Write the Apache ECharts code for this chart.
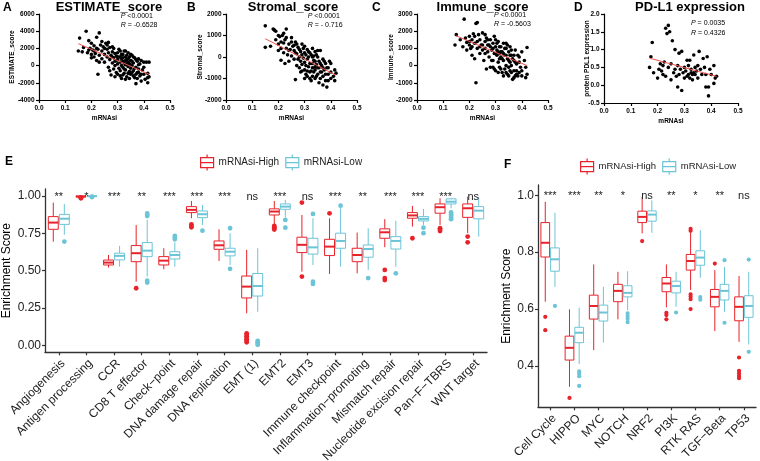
<!DOCTYPE html>
<html><head><meta charset="utf-8">
<script src="https://cdn.jsdelivr.net/npm/echarts@6/dist/echarts.min.js"></script>
<style>html,body{margin:0;padding:0;background:#fff}#c{width:760px;height:461px}</style>
</head><body><div id="c"></div>
<script>
// ---------------- data ----------------
const scatterA = [[0.15,1700],[0.155,3200],[0.165,1600],[0.17,2100],[0.18,4000],[0.185,1500],[0.19,2900],[0.195,2000],[0.2,1300],[0.2,2600],[0.205,1800],[0.21,1000],[0.21,2300],[0.215,1400],[0.22,3300],[0.22,600],[0.225,1900],[0.225,-1000],[0.23,3800],[0.23,1200],[0.235,2400],[0.24,800],[0.24,1700],[0.245,2200],[0.25,1300],[0.25,400],[0.255,2600],[0.26,1000],[0.26,1900],[0.265,-200],[0.265,1500],[0.27,700],[0.27,2100],[0.275,1200],[0.275,-1100],[0.28,300],[0.28,1600],[0.285,900],[0.285,-400],[0.29,1400],[0.29,500],[0.29,0],[0.295,1100],[0.295,-800],[0.3,700],[0.3,1500],[0.3,200],[0.305,-300],[0.305,1000],[0.31,400],[0.31,1700],[0.31,-600],[0.315,800],[0.315,0],[0.32,1300],[0.32,-200],[0.32,500],[0.325,-900],[0.325,300],[0.33,1000],[0.33,-500],[0.33,100],[0.335,700],[0.335,-1300],[0.34,-100],[0.34,400],[0.34,1500],[0.345,-700],[0.345,200],[0.35,600],[0.35,-1000],[0.35,-300],[0.355,1200],[0.355,0],[0.36,-600],[0.36,300],[0.365,-1400],[0.365,900],[0.37,-200],[0.37,-2100],[0.375,500],[0.375,-800],[0.38,-400],[0.38,100],[0.385,-1200],[0.39,600],[0.39,-1800],[0.395,-500],[0.4,400],[0.4,-1000],[0.405,-1600],[0.41,400],[0.415,-900],[0.415,-1400],[0.415,-2000],[0.42,400],[0.42,-1300],
[0.27,-600],[0.28,1000],[0.285,2000],[0.29,-1300],[0.295,600],[0.3,-1000],[0.3,1000],[0.305,1900],[0.31,-1200],[0.31,1000],[0.315,-1500],[0.315,1300],[0.32,900],[0.32,-1100],[0.325,1700],[0.325,-400],[0.33,600],[0.33,-1600],[0.335,1200],[0.335,200],[0.34,-900],[0.34,800],[0.345,-1500],[0.345,1000],[0.35,100],[0.35,1300],[0.355,-800],[0.355,500],[0.36,-1200],[0.36,1000],[0.365,-300],[0.37,700],[0.37,-1000],[0.375,-1500],[0.38,800],[0.38,-800],[0.385,200],[0.39,-1000],[0.4,-200],[0.24,2800],[0.25,2000],[0.26,2400],[0.22,2000],[0.23,400],[0.21,1700],[0.2,900],[0.19,1800],[0.28,2200],[0.265,2700],[0.33,1700]];
const scatterB = [[0.15,450],[0.15,1450],[0.17,500],[0.18,1300],[0.185,1250],[0.19,800],[0.19,1200],[0.2,600],[0.2,300],[0.205,950],[0.21,400],[0.21,-150],[0.215,1000],[0.22,650],[0.22,200],[0.225,-300],[0.225,800],[0.23,1300],[0.23,400],[0.235,100],[0.24,600],[0.24,-200],[0.245,350],[0.25,900],[0.25,50],[0.255,500],[0.26,-100],[0.26,300],[0.265,-1050],[0.265,700],[0.27,150],[0.27,-400],[0.275,450],[0.28,0],[0.28,-500],[0.285,250],[0.285,-200],[0.29,600],[0.29,-350],[0.295,-50],[0.3,200],[0.3,-600],[0.3,-250],[0.305,100],[0.305,-800],[0.31,350],[0.31,-100],[0.315,-450],[0.315,0],[0.32,200],[0.32,-700],[0.325,-300],[0.325,100],[0.33,400],[0.33,-500],[0.33,-900],[0.335,-150],[0.335,50],[0.34,-600],[0.34,250],[0.345,-350],[0.345,-900],[0.35,0],[0.35,-500],[0.355,-200],[0.355,-1200],[0.36,-700],[0.36,300],[0.365,-400],[0.37,-900],[0.37,-100],[0.375,-600],[0.38,-300],[0.38,-1100],[0.385,-1400],[0.39,-500],[0.39,-800],[0.395,-200],[0.4,-700],[0.4,-300],[0.41,-900],[0.415,-1100],[0.415,-600],[0.42,-750],
[0.27,600],[0.28,350],[0.285,-700],[0.29,100],[0.295,400],[0.3,-1000],[0.305,-400],[0.31,-650],[0.315,250],[0.32,-300],[0.32,-1000],[0.325,-650],[0.33,0],[0.33,-300],[0.335,-700],[0.34,-200],[0.34,-1000],[0.345,100],[0.35,-800],[0.35,300],[0.355,-500],[0.36,-300],[0.36,-1000],[0.365,-700],[0.37,-500],[0.375,-200],[0.38,-800],[0.385,-500],[0.39,-1100],[0.4,-1000],[0.25,700],[0.24,300],[0.23,900],[0.22,1100],[0.26,550],[0.275,-100],[0.29,-650],[0.31,-900],[0.34,-450],[0.37,-1300],[0.21,700],[0.2,1000],[0.265,200],[0.3,500],[0.325,-1100]];
const scatterC = [[0.145,1200],[0.15,1800],[0.165,1500],[0.175,1100],[0.18,2700],[0.185,1600],[0.19,1350],[0.19,900],[0.2,1700],[0.2,1200],[0.205,1000],[0.21,1500],[0.21,600],[0.215,1850],[0.22,1300],[0.22,400],[0.225,2450],[0.225,-1000],[0.23,2500],[0.23,1000],[0.235,1800],[0.24,1500],[0.24,700],[0.245,1200],[0.25,1900],[0.25,900],[0.255,300],[0.26,1400],[0.26,1000],[0.265,-200],[0.265,1600],[0.27,800],[0.27,1200],[0.275,500],[0.28,1500],[0.28,-100],[0.285,900],[0.29,1300],[0.29,300],[0.295,700],[0.295,1700],[0.3,1100],[0.3,-300],[0.305,600],[0.305,900],[0.31,1400],[0.31,200],[0.315,700],[0.315,-100],[0.32,1100],[0.32,500],[0.325,800],[0.325,-400],[0.33,1300],[0.33,300],[0.335,600],[0.335,-200],[0.34,1000],[0.34,0],[0.345,400],[0.345,-500],[0.35,800],[0.35,-100],[0.355,1100],[0.355,200],[0.36,-400],[0.36,600],[0.365,-800],[0.37,300],[0.37,-300],[0.375,900],[0.375,-600],[0.38,100],[0.38,-500],[0.385,600],[0.39,-400],[0.39,200],[0.395,-100],[0.4,800],[0.4,-300],[0.41,300],[0.415,-100],[0.415,-700],[0.42,1050],[0.42,-500],
[0.27,1500],[0.28,1100],[0.285,300],[0.29,1000],[0.295,-200],[0.3,700],[0.305,1300],[0.31,-400],[0.31,800],[0.315,1100],[0.32,-200],[0.32,800],[0.325,400],[0.33,700],[0.33,-600],[0.335,1000],[0.34,600],[0.34,-400],[0.345,1200],[0.35,300],[0.35,-600],[0.355,600],[0.36,900],[0.36,0],[0.365,400],[0.37,-700],[0.37,600],[0.375,200],[0.38,-300],[0.385,-600],[0.39,500],[0.4,-600],[0.25,1200],[0.24,1100],[0.23,1400],[0.22,1700],[0.26,1800],[0.26,700],[0.275,1200],[0.29,-100],[0.3,1500],[0.315,400],[0.34,1300],[0.355,-300],[0.21,1100],[0.2,1400]];
const scatterD = [[0.17,0.5],[0.175,0.8],[0.18,1.2],[0.185,0.35],[0.2,0.2],[0.205,0.45],[0.21,0.6],[0.215,0.4],[0.22,0.55],[0.22,0.3],[0.225,0.65],[0.23,1.6],[0.23,0.25],[0.235,1.45],[0.24,1.68],[0.24,0.5],[0.245,1.5],[0.25,0.15],[0.25,0.6],[0.255,1.25],[0.26,0.35],[0.265,1.0],[0.265,0.45],[0.27,0.25],[0.275,-0.05],[0.275,0.55],[0.28,0.3],[0.28,0.9],[0.285,0.45],[0.29,-0.15],[0.29,0.95],[0.295,0.35],[0.3,0.2],[0.3,0.5],[0.305,0.4],[0.31,0.7],[0.31,0.25],[0.315,0.55],[0.315,0.3],[0.32,0.2],[0.32,0.7],[0.325,0.35],[0.325,0.45],[0.33,0.3],[0.33,0.15],[0.335,0.35],[0.335,0.85],[0.34,0.5],[0.34,0.3],[0.345,0.4],[0.35,0.55],[0.35,0.2],[0.355,0.95],[0.36,0.45],[0.365,0.3],[0.37,0.75],[0.375,0.5],[0.38,0.3],[0.38,-0.05],[0.385,0.8],[0.39,-0.3],[0.39,-0.05],[0.395,0.45],[0.4,0.3],[0.41,0.55],[0.41,0.05],[0.415,0.2],[0.42,0.25]];
const fitA = [[0.15,2550],[0.42,-1000]];
const fitB = [[0.15,850],[0.42,-850]];
const fitC = [[0.15,1730],[0.42,0]];
const fitD = [[0.17,0.76],[0.42,0.25]];
const titles = ['ESTIMATE_score','Stromal_score','Immune_score','PD-L1 expression'];
const yNames = ['ESTIMATE_score','Stromal_score','Immune_score','protein PDL1 expression'];
const yRanges = [[-4000,6000,2000],[-2000,2000,1000],[-2000,3000,1000],[-0.5,2.0,0.5]];
const statsP = ['<0.0001','<0.0001','<0.0001','= 0.0035'];
const statsR = ['= -0.6528','= - 0.716','= -0.5603','= 0.4326'];

const catsE = ['Angiogenesis','Antigen processing','CCR','CD8 T effector','Check\u2212point','DNA damage repair','DNA replication','EMT (1)','EMT2','EMT3','Immune checkpoint','Inflammation\u2212promoting','Mismatch repair','Nucleotide excision repair','Pan\u2212F\u2212TBRS','WNT target'];
const sigE = ['**','*','***','**','***','***','***','ns','***','ns','***','**','***','***','***','ns'];
// [min, q1, median, q3, max]
const highE = [[0.694,0.777,0.822,0.862,0.956],[0.990,0.994,0.997,0.999,1.0],[0.520,0.538,0.554,0.571,0.605],[0.426,0.560,0.617,0.668,0.806],[0.509,0.538,0.567,0.594,0.650],[0.851,0.889,0.907,0.929,0.967],[0.565,0.643,0.670,0.699,0.777],[0.214,0.317,0.393,0.464,0.639],[0.813,0.873,0.896,0.914,0.967],[0.493,0.621,0.673,0.724,0.873],[0.478,0.601,0.661,0.710,0.851],[0.482,0.560,0.605,0.650,0.755],[0.657,0.717,0.757,0.780,0.845],[0.795,0.851,0.870,0.889,0.934],[0.806,0.885,0.925,0.947,0.985],[0.751,0.857,0.918,0.947,0.996]];
const lowE = [[0.740,0.810,0.848,0.877,0.947],[0.995,0.998,0.999,1.0,1.0],[0.527,0.572,0.599,0.617,0.666],[0.460,0.594,0.634,0.688,0.840],[0.527,0.578,0.605,0.627,0.690],[0.806,0.855,0.878,0.900,0.940],[0.538,0.599,0.627,0.650,0.751],[0.225,0.330,0.397,0.481,0.650],[0.857,0.911,0.929,0.947,0.974],[0.538,0.611,0.656,0.717,0.851],[0.527,0.650,0.699,0.751,0.918],[0.505,0.590,0.645,0.672,0.784],[0.527,0.645,0.699,0.728,0.835],[0.806,0.833,0.847,0.862,0.914],[0.918,0.947,0.962,0.981,0.989],[0.728,0.847,0.902,0.929,0.992]];
const outHighE = [[1,0.985],[1,0.988],[1,0.99],[3,0.382],[5,0.81],[5,0.80],[5,0.79],[7,0.08],[7,0.07],[7,0.06],[7,0.05],[7,0.04],[7,0.03],[7,0.02],[8,0.80],[8,0.79],[8,0.785],[8,0.775],[9,0.956],[9,0.460],[10,0.884],[12,0.505],[12,0.45],[12,0.437],[13,0.717],[14,0.784],[14,0.775],[14,0.765],[15,0.728],[15,0.690]];
const outLowE = [[0,0.695],[1,0.995],[1,0.993],[3,0.884],[3,0.875],[3,0.866],[3,0.433],[3,0.42],[4,0.733],[4,0.72],[4,0.71],[5,0.768],[6,0.784],[6,0.512],[7,0.03],[7,0.02],[7,0.01],[7,0.003],[8,0.84],[8,0.788],[9,0.88],[9,0.426],[9,0.411],[10,0.935],[11,0.450],[12,0.482],[13,0.788],[13,0.751],[14,0.89],[14,0.877],[14,0.866],[14,0.855],[14,0.845]];

const catsF = ['Cell Cycle','HIPPO','MYC','NOTCH','NRF2','PI3K','RTK RAS','TGF\u2212Beta','TP53'];
const sigF = ['***','***','**','*','ns','**','*','**','ns'];
const highF = [[0.626,0.783,0.833,0.904,0.977],[0.327,0.421,0.464,0.505,0.599],[0.456,0.565,0.611,0.649,0.757],[0.564,0.626,0.664,0.687,0.731],[0.866,0.904,0.924,0.944,0.994],[0.606,0.661,0.690,0.711,0.757],[0.667,0.737,0.769,0.792,0.868],[0.523,0.608,0.643,0.669,0.737],[0.485,0.559,0.608,0.643,0.716]];
const lowF = [[0.678,0.733,0.775,0.815,0.938],[0.407,0.482,0.517,0.536,0.605],[0.482,0.558,0.588,0.614,0.678],[0.596,0.643,0.657,0.682,0.733],[0.868,0.909,0.932,0.945,0.982],[0.608,0.657,0.681,0.698,0.731],[0.710,0.754,0.781,0.805,0.877],[0.591,0.632,0.664,0.687,0.748],[0.476,0.571,0.611,0.647,0.731]];
const outHighF = [[0,0.573],[0,0.526],[1,0.288],[4,0.839],[5,0.587],[5,0.579],[5,0.564],[6,0.882],[6,0.875],[6,0.652],[6,0.644],[6,0.635],[6,0.600],[7,0.760],[8,0.430],[8,0.383],[8,0.374],[8,0.365],[8,0.357]];
const outLowF = [[0,0.611],[1,0.381],[1,0.373],[1,0.364],[1,0.330],[3,0.585],[3,0.575],[3,0.566],[3,0.554],[5,0.588],[6,0.642],[6,0.633],[7,0.772],[7,0.552],[8,0.774],[8,0.450]];

// ---------------- styling ----------------
const FONT = "'Liberation Sans', Arial, sans-serif";
const RED = '#E8222A', CYAN = '#6CC4D7';
const chart = echarts.init(document.getElementById('c'), null, {renderer:'canvas'});

const scGrids = [
  {left:39, top:14, width:131, height:86},
  {left:226, top:14, width:131, height:86},
  {left:417, top:14, width:131, height:86},
  {left:604, top:14, width:134, height:89}
];
const yNameGap = [23, 22, 22, 13];
const grids = scGrids.map(g => Object.assign({outerBoundsMode:'none', containLabel:false}, g));
grids.push({left:45, top:189, width:442, height:163.3, outerBoundsMode:'none', containLabel:false});
grids.push({left:538, top:185, width:218, height:222.3, outerBoundsMode:'none', containLabel:false});

const axLine = {show:true, onZero:false, lineStyle:{color:'#000', width:1.2}};
const scTick = {show:true, length:3, inside:false, lineStyle:{color:'#000', width:1.2}};
const scLabel = {fontSize:6.5, fontWeight:'bold', color:'#000', fontFamily:FONT};

const xAxes = [], yAxes = [], series = [];
const scatters = [scatterA, scatterB, scatterC, scatterD];
const fits = [fitA, fitB, fitC, fitD];
for (let k = 0; k < 4; k++) {
  xAxes.push({gridIndex:k, type:'value', min:0, max:0.5, interval:0.1,
    axisLine:axLine, axisTick:scTick, splitLine:{show:false},
    axisLabel:Object.assign({margin:4.5, formatter:v=>v.toFixed(1)}, scLabel),
    name:'mRNAsi', nameLocation:'middle', nameGap:14.5, nameMoveOverlap:false,
    nameTextStyle:{fontSize:6.5, fontWeight:'bold', color:'#000', fontFamily:FONT}});
  const r = yRanges[k];
  yAxes.push({gridIndex:k, type:'value', min:r[0], max:r[1], interval:r[2],
    axisLine:axLine, axisTick:scTick, splitLine:{show:false},
    axisLabel:Object.assign({margin:4.5, formatter:v=> k===3 ? v.toFixed(1) : String(v)}, scLabel),
    name:yNames[k], nameLocation:'middle', nameRotate:90, nameGap:yNameGap[k], nameMoveOverlap:false,
    nameTextStyle:{fontSize:6.5, fontWeight:'bold', color:'#000', fontFamily:FONT}});
  series.push({type:'scatter', xAxisIndex:k, yAxisIndex:k, data:scatters[k], symbolSize:3.6,
    itemStyle:{color:'#000', opacity:1}, silent:true, z:2});
  series.push({type:'line', xAxisIndex:k, yAxisIndex:k, data:fits[k], symbol:'none',
    lineStyle:{color:'#F0534E', width:1}, silent:true, z:3});
}

function boxAxesX(gi, cats) {
  return {gridIndex:gi, type:'category', data:cats, boundaryGap:true,
    axisLine:{show:true, onZero:false, lineStyle:{color:'#333', width:1.3}},
    axisTick:{show:true, alignWithLabel:true, length:3, lineStyle:{color:'#333', width:1.2}},
    axisLabel:{interval:0, rotate:45, align:'right', verticalAlign:'top', margin:5,
      fontSize:12, color:'#222', fontFamily:FONT},
    splitLine:{show:false}};
}
function boxAxesY(gi, min, max, ticks, dec, gap) {
  return {gridIndex:gi, type:'value', min:min, max:max,
    axisLine:{show:true, onZero:false, lineStyle:{color:'#333', width:1.3}},
    axisTick:{show:true, length:3, customValues:ticks, lineStyle:{color:'#333', width:1.2}},
    axisLabel:{customValues:ticks, formatter:v=>v.toFixed(dec), fontSize:12, color:'#222', margin:4, fontFamily:FONT},
    splitLine:{show:false},
    name:'Enrichment Score', nameLocation:'middle', nameRotate:90, nameGap:gap, nameMoveOverlap:false,
    nameTextStyle:{fontSize:12, color:'#000', fontFamily:FONT}};
}
xAxes.push(boxAxesX(4, catsE));
yAxes.push(boxAxesY(4, -0.047, 1.047, [0,0.25,0.5,0.75,1], 2, 32));
xAxes.push(boxAxesX(5, catsF));
yAxes.push(boxAxesY(5, 0.255, 1.036, [0.4,0.6,0.8,1.0], 1, 25));

function boxRender(color, side) {
  return function (params, api) {
    const i = api.value(0);
    const band = api.size([1, 0])[0];
    const cx = api.coord([i, 0])[0] + side * band * 0.2;
    const w = band * 0.36;
    const y = d => api.coord([i, api.value(d)])[1];
    const yMin = y(1), yQ1 = y(2), yMed = y(3), yQ3 = y(4), yMax = y(5);
    return {type:'group', children:[
      {type:'line', shape:{x1:cx, y1:yMax, x2:cx, y2:yQ3}, style:{stroke:color, lineWidth:1}},
      {type:'line', shape:{x1:cx, y1:yQ1, x2:cx, y2:yMin}, style:{stroke:color, lineWidth:1}},
      {type:'rect', shape:{x:cx - w/2, y:yQ3, width:w, height:yQ1 - yQ3}, style:{fill:'#fff', stroke:color, lineWidth:1}},
      {type:'line', shape:{x1:cx - w/2, y1:yMed, x2:cx + w/2, y2:yMed}, style:{stroke:color, lineWidth:2}}
    ]};
  };
}
function outRender(color, side, r) {
  return function (params, api) {
    const i = api.value(0);
    const band = api.size([1, 0])[0];
    const p = api.coord([i, api.value(1)]);
    return {type:'circle', shape:{cx:p[0] + side * band * 0.2, cy:p[1], r:r}, style:{fill:color}};
  };
}
function sigRender(labels) {
  return function (params, api) {
    const p = api.coord([api.value(0), api.value(1)]);
    return {type:'text', x:p[0], y:p[1], style:{text:labels[params.dataIndex], fontSize:11, fontFamily:FONT,
      fill:'#222', align:'center', verticalAlign:'bottom'}};
  };
}
function addBoxPanel(ai, high, low, outH, outL, sig, sigY, r) {
  series.push({type:'custom', name:'mRNAsi-High', xAxisIndex:ai, yAxisIndex:ai, silent:true,
    renderItem:boxRender(RED, -1), encode:{x:0, y:[1,2,3,4,5]}, data:high.map((s,i)=>[i].concat(s)), z:3});
  series.push({type:'custom', name:'mRNAsi-Low', xAxisIndex:ai, yAxisIndex:ai, silent:true,
    renderItem:boxRender(CYAN, 1), encode:{x:0, y:[1,2,3,4,5]}, data:low.map((s,i)=>[i].concat(s)), z:3});
  series.push({type:'custom', xAxisIndex:ai, yAxisIndex:ai, silent:true,
    renderItem:outRender(RED, -1, r), encode:{x:0, y:1}, data:outH, z:4});
  series.push({type:'custom', xAxisIndex:ai, yAxisIndex:ai, silent:true,
    renderItem:outRender(CYAN, 1, r), encode:{x:0, y:1}, data:outL, z:4});
  series.push({type:'custom', xAxisIndex:ai, yAxisIndex:ai, silent:true,
    renderItem:sigRender(sig), encode:{x:0, y:1}, data:sig.map((s,i)=>[i, sigY]), z:5});
}
addBoxPanel(4, highE, lowE, outHighE, outLowE, sigE, 0.956, 2.4);
addBoxPanel(5, highF, lowF, outHighF, outLowF, sigF, 0.977, 2.1);

const ICON = 'path://M6.5,0V3M0,3H13V13H0ZM0,8H13M6.5,13V16';
function legendOf(left, top, fs) {
  return {left:left, top:top, padding:0, itemWidth:13, itemHeight:16, itemGap:6, selectedMode:false,
    textStyle:{fontSize:fs, color:'#222', fontFamily:FONT},
    data:[{name:'mRNAsi-High', icon:ICON, itemStyle:{color:'#fff', borderColor:RED, borderWidth:1.2}},
          {name:'mRNAsi-Low', icon:ICON, itemStyle:{color:'#fff', borderColor:CYAN, borderWidth:1.2}}]};
}

const txt = (x, y, text, size, weight, align, extra) => Object.assign({type:'text', x:x, y:y, silent:true,
  style:Object.assign({text:text, fontSize:size, fontWeight:weight || 'normal', fontFamily:FONT, fill:'#000',
    align:align || 'left', verticalAlign:'middle'}, extra || {})});
const titleX = [109, 293, 482.5, 690];
const letterX = [3, 187, 372, 574];
const statX = [120.7, 307.7, 494, 691];
const statY = [[16.3, 25.3], [16, 25], [15.5, 24.5], [23.3, 32.7]];
const graphics = [];
for (let k = 0; k < 4; k++) {
  graphics.push(txt(titleX[k], 7.5, titles[k], 13, 'bold', 'center'));
  graphics.push(txt(letterX[k], 7.5, 'ABCD'[k], 12, 'bold'));
  graphics.push(txt(statX[k], statY[k][0], '{i|P} ' + statsP[k], 7, 'normal', 'left',
    {rich:{i:{fontStyle:'italic', fontSize:7, fontFamily:FONT}}}));
  graphics.push(txt(statX[k], statY[k][1], '{i|R} ' + statsR[k], 7, 'normal', 'left',
    {rich:{i:{fontStyle:'italic', fontSize:7, fontFamily:FONT}}}));
}
graphics.push(txt(5, 162, 'E', 12, 'bold'));
graphics.push(txt(504, 164.5, 'F', 12, 'bold'));

chart.setOption({
  animation:false,
  backgroundColor:'#fff',
  textStyle:{fontFamily:FONT},
  grid:grids, xAxis:xAxes, yAxis:yAxes, series:series,
  legend:[legendOf(200, 154, 10), legendOf(580, 158, 9.5)],
  graphic:{elements:graphics}
});
</script></body></html>
